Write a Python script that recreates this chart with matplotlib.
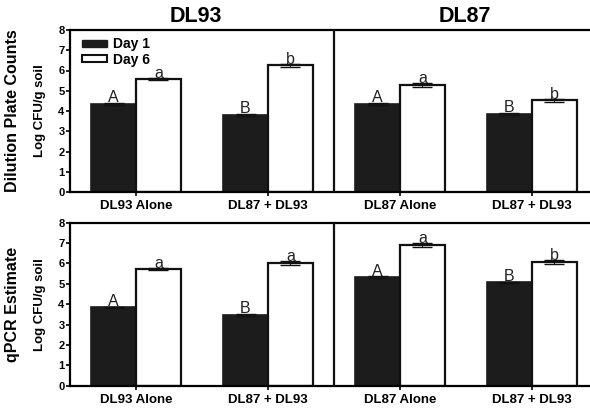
import numpy as np
import matplotlib
matplotlib.use("Agg")
import matplotlib.pyplot as plt
from matplotlib.patches import Patch

plt.rcParams['font.family'] = ['Liberation Sans', 'DejaVu Sans']

groups = ["DL93 Alone", "DL87 + DL93", "DL87 Alone", "DL87 + DL93"]
panel_titles = ["DL93", "DL87"]
row_labels = ["Dilution Plate Counts", "qPCR Estimate"]

# top row: dilution plate counts
plate_day1 = [4.35, 3.8, 4.35, 3.85]
plate_day6 = [5.58, 6.25, 5.28, 4.52]
plate_err1 = [0.03, 0.03, 0.03, 0.03]
plate_err6 = [0.05, 0.07, 0.08, 0.06]
plate_let1 = ["A", "B", "A", "B"]
plate_let6 = ["a", "b", "a", "b"]

# bottom row: qPCR estimate
qpcr_day1 = [3.85, 3.47, 5.33, 5.08]
qpcr_day6 = [5.75, 6.0, 6.9, 6.08]
qpcr_err1 = [0.03, 0.03, 0.03, 0.03]
qpcr_err6 = [0.05, 0.1, 0.1, 0.1]
qpcr_let1 = ["A", "B", "A", "B"]
qpcr_let6 = ["a", "a", "a", "b"]

dark = "#1c1c1c"
w = 0.34

fig = plt.figure(figsize=(5.9, 4.13), dpi=100)
ax_top = fig.add_axes([70 / 590, 1 - 192 / 413, 520 / 590, 162 / 413])
ax_bot = fig.add_axes([70 / 590, 1 - 385.7 / 413, 520 / 590, 163 / 413])

x = np.arange(len(groups))


def draw(ax, d1, d6, e1, e6, l1, l6):
    ax.bar(x - w / 2, d1, w, color=dark, edgecolor=dark, linewidth=1.2, zorder=2)
    ax.bar(x + w / 2, d6, w, color="white", edgecolor="#111111", linewidth=1.6, zorder=2)
    ax.errorbar(x - w / 2, d1, yerr=e1, fmt="none", ecolor="#111111", elinewidth=0.8,
                capsize=7, capthick=1, zorder=3)
    ax.errorbar(x + w / 2, d6, yerr=e6, fmt="none", ecolor="#111111", elinewidth=0.8,
                capsize=7, capthick=1, zorder=3)
    for i in range(len(x)):
        ax.text(x[i] - w / 2, d1[i] + e1[i] - 0.1, l1[i], ha="center", va="bottom",
                fontsize=11.5, color="#222222")
        ax.text(x[i] + w / 2, d6[i] + e6[i] - 0.15, l6[i], ha="center", va="bottom",
                fontsize=11.5, color="#222222")
    ax.set_xlim(-0.5, 3.44)
    ax.set_ylim(0, 8)
    ax.set_yticks(range(0, 9))
    ax.set_xticks(x)
    ax.set_xticklabels(groups, fontsize=9.5, fontweight="bold")
    for lab in ax.get_yticklabels():
        lab.set_fontweight("bold")
        lab.set_fontsize(8)
    ax.tick_params(axis="y", length=3, width=1.2, pad=1)
    ax.tick_params(axis="x", length=3, width=1.2, pad=3)
    ax.spines["right"].set_visible(False)
    for s in ["left", "top", "bottom"]:
        ax.spines[s].set_linewidth(1.6)
    ax.axvline(1.5, color="#111111", linewidth=1.6, zorder=4)


draw(ax_top, plate_day1, plate_day6, plate_err1, plate_err6, plate_let1, plate_let6)
draw(ax_bot, qpcr_day1, qpcr_day6, qpcr_err1, qpcr_err6, qpcr_let1, qpcr_let6)

handles = [Patch(facecolor=dark, edgecolor=dark), Patch(facecolor="white", edgecolor="#111111", linewidth=1.5)]
leg = ax_top.legend(handles, ["Day 1", "Day 6"], loc="upper left", frameon=False,
                    bbox_to_anchor=(0.005, 1.015), handlelength=1.8, handleheight=0.45,
                    labelspacing=0.1, handletextpad=0.4, borderaxespad=0.3,
                    prop={"weight": "bold", "size": 10})

fig.text(196 / 590, 1 - 17 / 413, panel_titles[0], ha="center", va="center",
         fontsize=15.5, fontweight="bold")
fig.text(465 / 590, 1 - 17 / 413, panel_titles[1], ha="center", va="center",
         fontsize=15.5, fontweight="bold")

for ax, lab in zip([ax_top, ax_bot], row_labels):
    pos = ax.get_position()
    yc = (pos.y0 + pos.y1) / 2
    fig.text(13 / 590, yc, lab, rotation=90, ha="center", va="center",
             fontsize=11.5, fontweight="bold")
    fig.text(40 / 590, yc, "Log CFU/g soil", rotation=90, ha="center", va="center",
             fontsize=9.5, fontweight="bold")

fig.savefig("out.png", dpi=100)
